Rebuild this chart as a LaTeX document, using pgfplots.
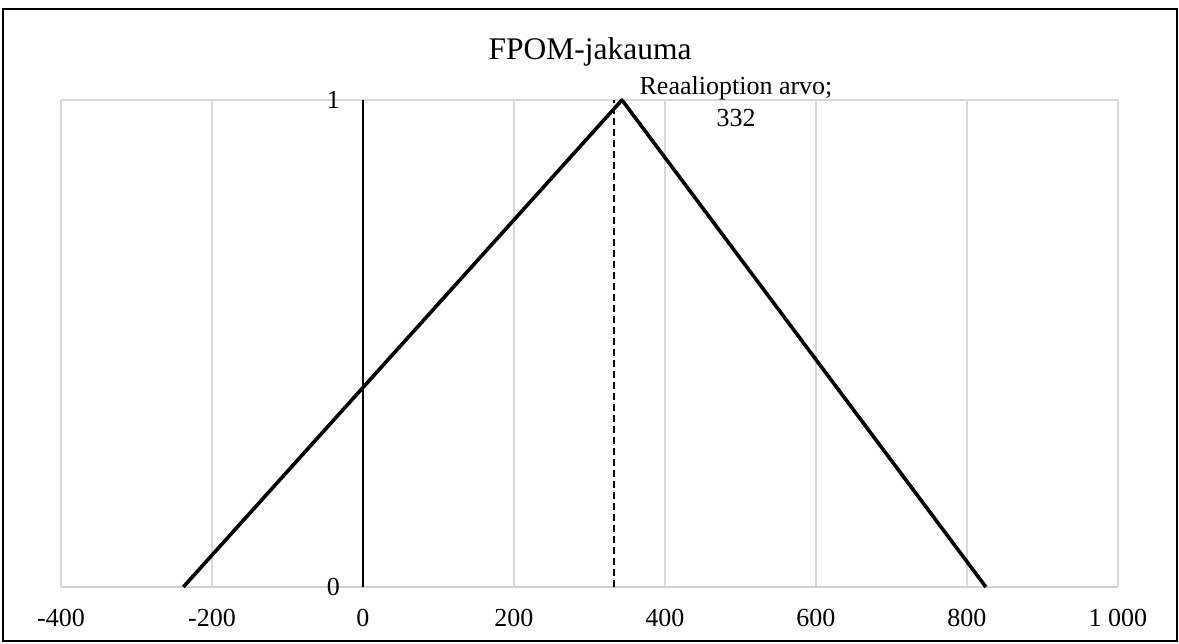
\documentclass[border=0pt]{standalone}
\usepackage{pgfplots}
\pgfplotsset{compat=1.18}
\usepackage{fontspec}
\setmainfont{Liberation Serif}
\begin{document}
\begin{tikzpicture}
\useasboundingbox (0pt,0pt) rectangle (1179pt,644pt);
\draw[line width=1.5pt] (3pt,3pt) rectangle (1177pt,635pt);
\begin{axis}[
  at={(61pt,57pt)}, anchor=south west,
  scale only axis, width=1057pt, height=487pt,
  xmin=-400, xmax=1000, ymin=0, ymax=1,
  xtick={-400,-200,0,200,400,600,800,1000},
  xticklabels={-400,-200,0,200,400,600,800,1 000},
  ytick={0,1}, yticklabels={0,1},
  axis x line=bottom, axis y line=center,
  axis line style={-},
  x axis line style={draw=black!18, line width=1.5pt},
  y axis line style={draw=black, line width=2pt},
  hide obscured x ticks=false, hide obscured y ticks=false,
  major tick length=0pt,
  grid=major,
  grid style={draw=black!15, line width=1.4pt},
  xticklabel style={font=\fontsize{26}{30}\selectfont, anchor=base, inner sep=0pt, yshift=-40pt},
  yticklabel style={font=\fontsize{26}{30}\selectfont, anchor=base east, inner sep=0pt, xshift=-23pt, yshift=-9pt},
  clip=false,
]
\addplot[black, line width=2pt, dash pattern=on 7pt off 4pt] coordinates {(332,0) (332,1)};
\addplot[black, line width=3.6pt, line join=round] coordinates {(-238,0) (343,1) (825,0)};
\end{axis}
\node[anchor=base, font=\fontsize{31.5}{36}\selectfont] at (590pt,584pt) {FPOM-jakauma};
\node[anchor=base, font=\fontsize{26}{30}\selectfont] at (736pt,549pt) {Reaalioption arvo;};
\node[anchor=base, font=\fontsize{26}{30}\selectfont] at (736pt,517pt) {332};
\end{tikzpicture}
\end{document}
